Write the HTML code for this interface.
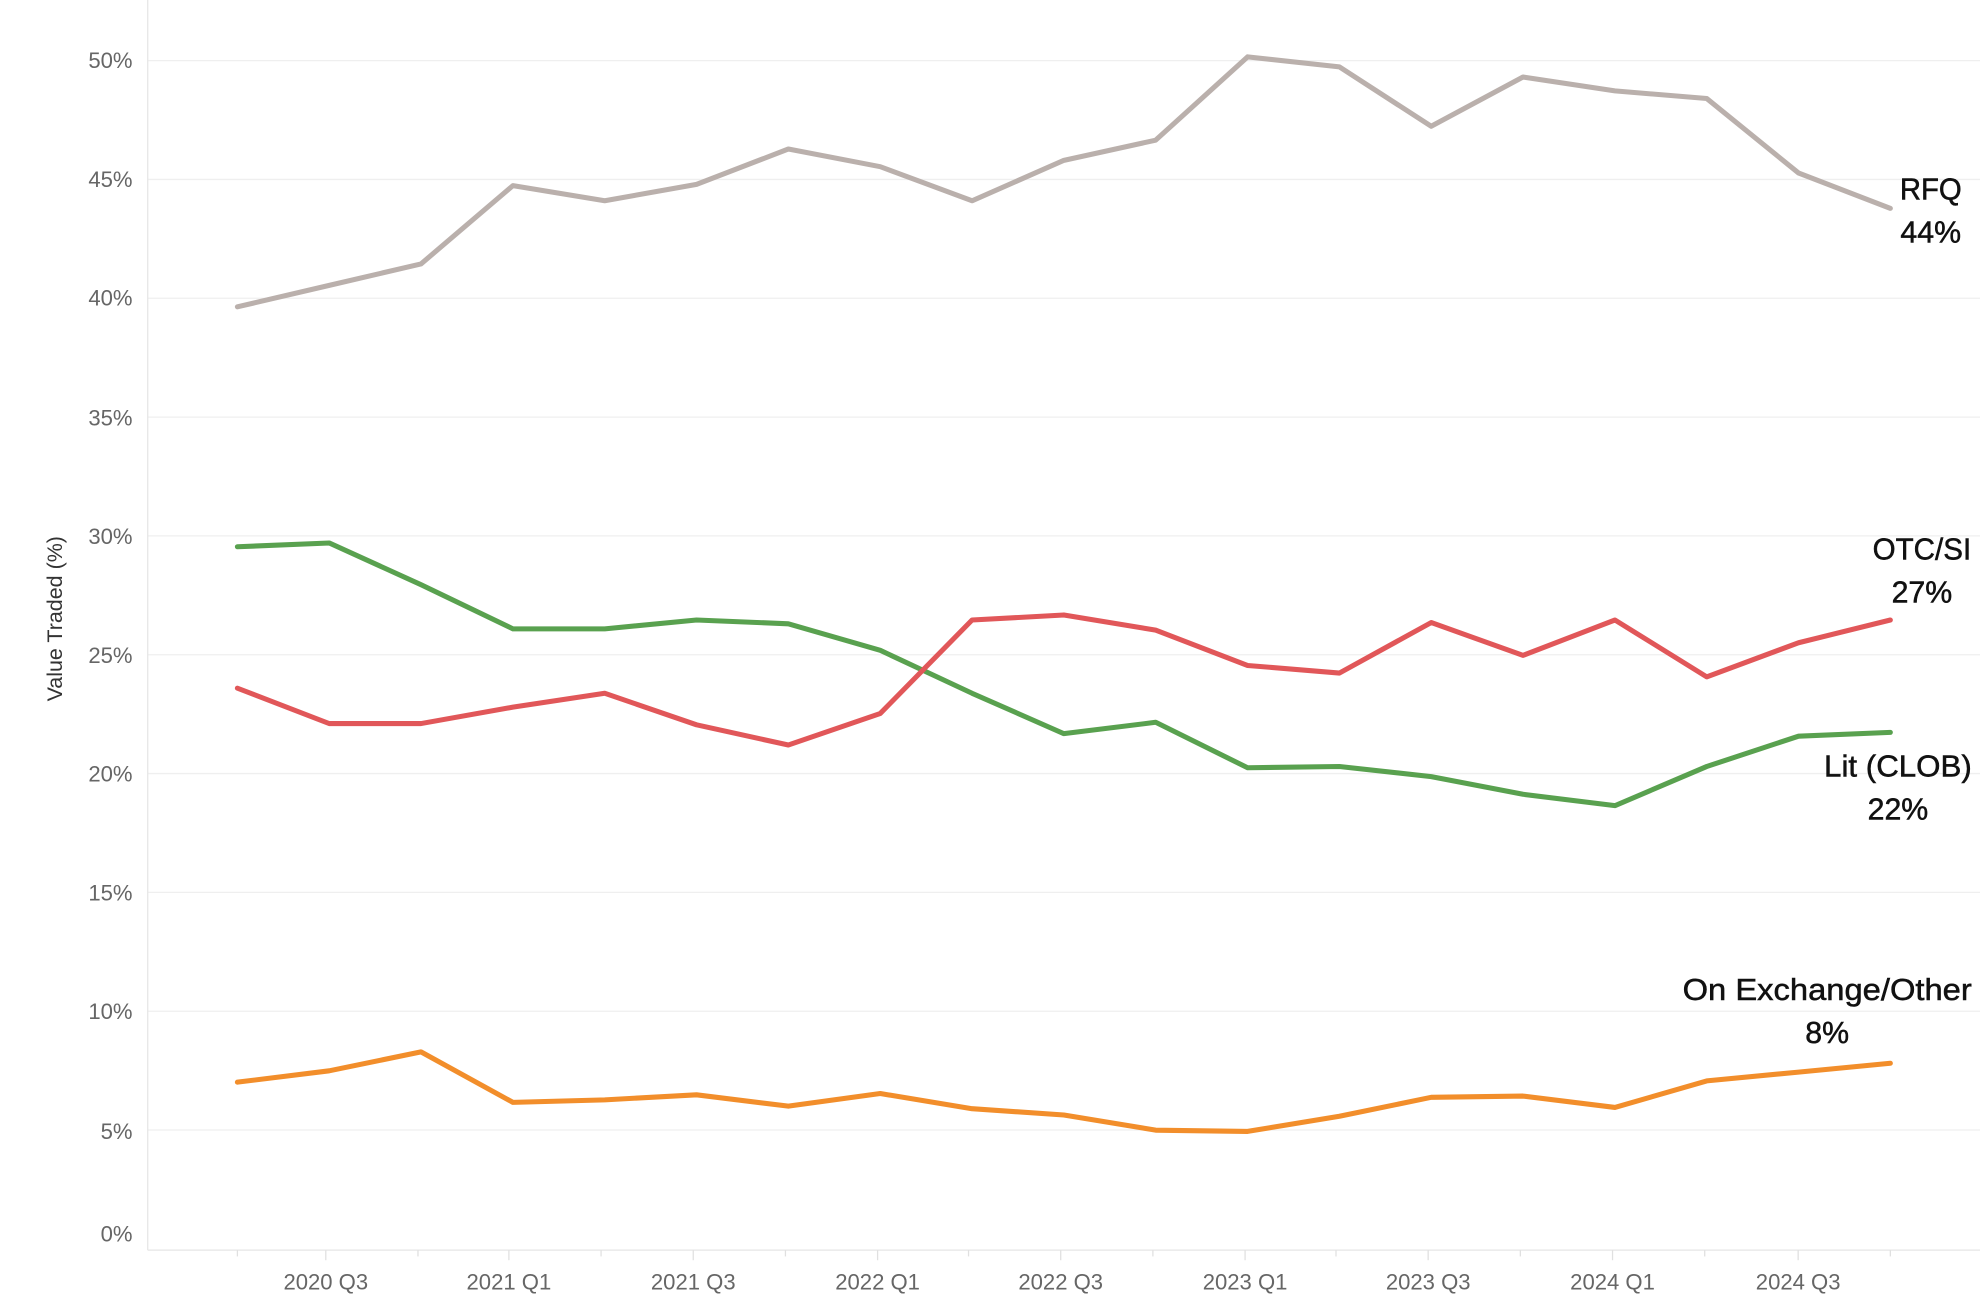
<!DOCTYPE html>
<html><head><style>html,body{margin:0;padding:0;background:#fff}svg{display:block}</style></head>
<body>
<svg width="1980" height="1312" viewBox="0 0 1568 1039" preserveAspectRatio="none" xmlns="http://www.w3.org/2000/svg" font-family="Liberation Sans, sans-serif">
<g stroke="#efefef" stroke-width="1">
<line x1="117" x2="1568" y1="48" y2="48"/><line x1="117" x2="1568" y1="142.1" y2="142.1"/>
<line x1="117" x2="1568" y1="236.2" y2="236.2"/><line x1="117" x2="1568" y1="330.3" y2="330.3"/>
<line x1="117" x2="1568" y1="424.4" y2="424.4"/><line x1="117" x2="1568" y1="518.5" y2="518.5"/>
<line x1="117" x2="1568" y1="612.6" y2="612.6"/><line x1="117" x2="1568" y1="706.7" y2="706.7"/>
<line x1="117" x2="1568" y1="800.8" y2="800.8"/><line x1="117" x2="1568" y1="894.9" y2="894.9"/>
<line x1="117" x2="1568" y1="990" y2="990" stroke="#e6e6e6"/>
<line x1="117" x2="117" y1="0" y2="990" stroke="#e6e6e6"/>
</g>
<g stroke="#e0e0e0" stroke-width="1">
<line x1="188" x2="188" y1="990" y2="995"/><line x1="258" x2="258" y1="990" y2="998"/>
<line x1="331" x2="331" y1="990" y2="995"/><line x1="403" x2="403" y1="990" y2="998"/>
<line x1="476" x2="476" y1="990" y2="995"/><line x1="549" x2="549" y1="990" y2="998"/>
<line x1="622" x2="622" y1="990" y2="995"/><line x1="695" x2="695" y1="990" y2="998"/>
<line x1="767" x2="767" y1="990" y2="995"/><line x1="840" x2="840" y1="990" y2="998"/>
<line x1="913" x2="913" y1="990" y2="995"/><line x1="986" x2="986" y1="990" y2="998"/>
<line x1="1058" x2="1058" y1="990" y2="995"/><line x1="1131" x2="1131" y1="990" y2="998"/>
<line x1="1204" x2="1204" y1="990" y2="995"/><line x1="1277" x2="1277" y1="990" y2="998"/>
<line x1="1350" x2="1350" y1="990" y2="995"/><line x1="1424" x2="1424" y1="990" y2="998"/>
<line x1="1497" x2="1497" y1="990" y2="995"/>
</g>
<g fill="#666" font-size="17.5" text-anchor="end">
<text x="105" y="54">50%</text><text x="105" y="148">45%</text><text x="105" y="242">40%</text>
<text x="105" y="337">35%</text><text x="105" y="431">30%</text><text x="105" y="525">25%</text>
<text x="105" y="619">20%</text><text x="105" y="713">15%</text><text x="105" y="807">10%</text>
<text x="105" y="902">5%</text><text x="105" y="983">0%</text>
</g>
<g fill="#666" font-size="17.5" text-anchor="middle">
<text x="258" y="1021">2020 Q3</text><text x="403" y="1021">2021 Q1</text><text x="549" y="1021">2021 Q3</text>
<text x="695" y="1021">2022 Q1</text><text x="840" y="1021">2022 Q3</text><text x="986" y="1021">2023 Q1</text>
<text x="1131" y="1021">2023 Q3</text><text x="1277" y="1021">2024 Q1</text><text x="1424" y="1021">2024 Q3</text>
</g>
<text transform="translate(49,490) rotate(-90)" text-anchor="middle" font-size="17" fill="#333">Value Traded (%)</text>
<g fill="none" stroke-width="4" stroke-linejoin="round" stroke-linecap="round">
<polyline stroke="#bab0ac" points="188,243 260.7,226 333.4,209 406.2,147 478.9,159 551.6,146 624.3,118 697.1,132 769.8,159 842.5,127 915.2,111 988,45 1060.7,53 1133.4,100 1206.1,61 1278.9,72 1351.6,78 1424.3,137 1497,165"/>
<polyline stroke="#59a14f" points="188,433 260.7,430 333.4,463 406.2,498 478.9,498 551.6,491 624.3,494 697.1,515 769.8,549 842.5,581 915.2,572 988,608 1060.7,607 1133.4,615 1206.1,629 1278.9,638 1351.6,607 1424.3,583 1497,580"/>
<polyline stroke="#e15759" points="188,545 260.7,573 333.4,573 406.2,560 478.9,549 551.6,574 624.3,590 697.1,565 769.8,491 842.5,487 915.2,499 988,527 1060.7,533 1133.4,493 1206.1,519 1278.9,491 1351.6,536 1424.3,509 1497,491"/>
<polyline stroke="#f28e2b" points="188,857 260.7,848 333.4,833 406.2,873 478.9,871 551.6,867 624.3,876 697.1,866 769.8,878 842.5,883 915.2,895 988,896 1060.7,884 1133.4,869 1206.1,868 1278.9,877 1351.6,856 1424.3,849 1497,842"/>
</g>
<g fill="#111" font-size="24" text-anchor="middle" stroke="#111" stroke-width="0.4">
<text x="1529" y="158" textLength="49" lengthAdjust="spacingAndGlyphs">RFQ</text><text x="1529" y="192">44%</text>
<text x="1522" y="443" textLength="78" lengthAdjust="spacingAndGlyphs">OTC/SI</text><text x="1522" y="477">27%</text>
<text x="1503" y="615" textLength="117" lengthAdjust="spacingAndGlyphs">Lit (CLOB)</text><text x="1503" y="649">22%</text>
<text x="1447" y="792" textLength="229" lengthAdjust="spacingAndGlyphs">On Exchange/Other</text><text x="1447" y="826">8%</text>
</g>
</svg>
</body></html>
